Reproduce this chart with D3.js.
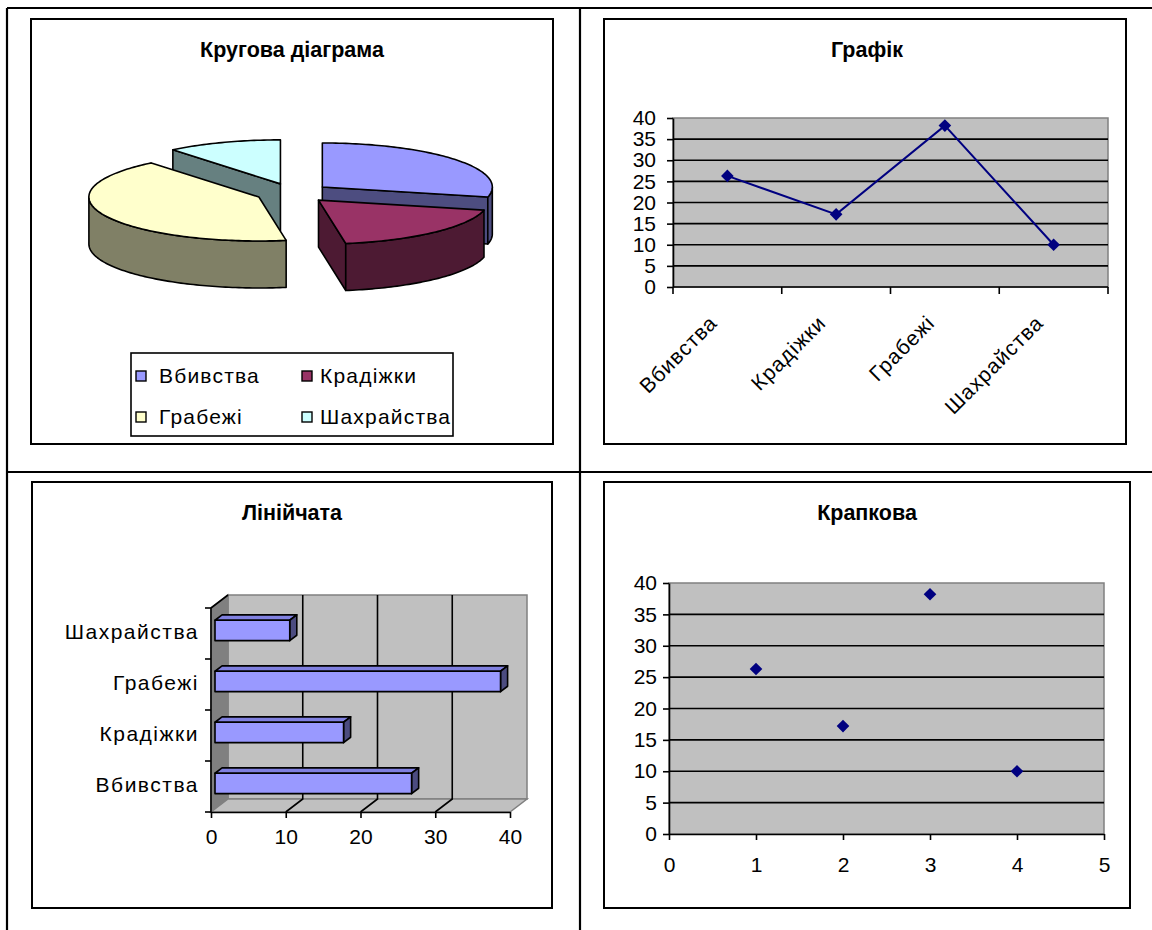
<!DOCTYPE html>
<html lang="uk">
<head>
<meta charset="UTF-8">
<title>Діаграми</title>
<style>
  html, body { margin: 0; padding: 0; background: #fff; }
  svg { display: block; }
  text { font-family: "Liberation Sans", Arial, sans-serif; fill: #000; }
  .title { font-size: 21.5px; font-weight: bold; }
  .lbl { font-size: 21px; }
</style>
</head>
<body>
<svg id="page" width="1152" height="930"></svg>
<script src="https://cdn.jsdelivr.net/npm/d3@7/dist/d3.min.js"></script>
<script>
// data
const categories = ["Вбивства", "Крадіжки", "Грабежі", "Шахрайства"];
const values = [26.3, 17.2, 38.2, 10];
const scatterX = [1, 2, 3, 4];
const yTicks = [0, 5, 10, 15, 20, 25, 30, 35, 40];
const barTicks = [0, 10, 20, 30, 40];
const scatterXTicks = [0, 1, 2, 3, 4, 5];
const pieColors = ["#9999ff", "#993366", "#ffffcc", "#ccffff"];
const titles = ["Кругова діаграма", "Графік", "Лінійчата", "Крапкова"];

const svg = d3.select("#page");
const half = c => { const r = d3.rgb(c); return d3.rgb(r.r / 2, r.g / 2, r.b / 2).formatHex(); };

// table lines
const grid = [[7, 8, 1152, 8], [7, 472, 1152, 472], [7, 8, 7, 930], [580, 8, 580, 930]];
svg.selectAll(".tbl").data(grid).enter().append("line")
  .attr("x1", d => d[0]).attr("y1", d => d[1]).attr("x2", d => d[2]).attr("y2", d => d[3])
  .attr("stroke", "#000").attr("stroke-width", 2.2);

// chart frames
const frames = [[31, 19, 553, 444], [604, 19, 1126, 444], [32, 482, 552, 908], [604, 482, 1130, 908]];
svg.selectAll(".frame").data(frames).enter().append("rect")
  .attr("x", d => d[0]).attr("y", d => d[1]).attr("width", d => d[2] - d[0]).attr("height", d => d[3] - d[1])
  .attr("fill", "#fff").attr("stroke", "#000").attr("stroke-width", 2);

const titlePos = [[292, 57], [867, 57], [292, 520], [867, 520]];
titles.forEach((t, i) => {
  svg.append("text").attr("class", "title").attr("x", titlePos[i][0]).attr("y", titlePos[i][1])
    .attr("text-anchor", "middle").text(t);
});

// ---------- 3D pie ----------
const P = {cx: 293, cy: 193, rx: 170, ry: 44, depth: 47, explode: 0.22};
const slices = d3.pie().sort(null).value(d => d)(values).map((s, i) => {
  const m = (s.startAngle + s.endAngle) / 2;
  return Object.assign(s, {
    i: i, mid: m,
    ox: P.explode * P.rx * Math.sin(m),
    oy: -P.explode * P.ry * Math.cos(m)
  });
});
const pt = (s, a, r, h) => [P.cx + s.ox + r * P.rx * Math.sin(a), P.cy + s.oy - r * P.ry * Math.cos(a) + h];
const arcPts = (s, a0, a1, h) => {
  const n = Math.max(2, Math.ceil(Math.abs(a1 - a0) / 0.02));
  return d3.range(n + 1).map(k => pt(s, a0 + (a1 - a0) * k / n, 1, h));
};
const line = d3.line();
const pieG = svg.append("g");
const faceStyle = (sel, fill) => sel.attr("fill", fill).attr("stroke", "#000")
  .attr("stroke-width", 1.6).attr("stroke-linejoin", "round");

slices.slice().sort((a, b) => (-Math.cos(a.mid)) - (-Math.cos(b.mid))).forEach(s => {
  const top = pieColors[s.i], side = half(top);
  const a0 = s.startAngle, a1 = s.endAngle, D = P.depth;
  if (Math.sin(a0) < -1e-6) {
    faceStyle(pieG.append("path").attr("d", line([pt(s, a0, 0, 0), pt(s, a0, 1, 0), pt(s, a0, 1, D), pt(s, a0, 0, D)]) + "Z"), side);
  }
  if (Math.sin(a1) > 1e-6) {
    faceStyle(pieG.append("path").attr("d", line([pt(s, a1, 0, 0), pt(s, a1, 1, 0), pt(s, a1, 1, D), pt(s, a1, 0, D)]) + "Z"), side);
  }
  const st = Math.max(a0, Math.PI / 2), en = Math.min(a1, 3 * Math.PI / 2);
  if (st < en) {
    faceStyle(pieG.append("path").attr("d", line(arcPts(s, st, en, 0).concat(arcPts(s, en, st, D))) + "Z"), side);
  }
  faceStyle(pieG.append("path").attr("d", line([pt(s, 0, 0, 0)].concat(arcPts(s, a0, a1, 0))) + "Z"), top);
});

// legend
const leg = svg.append("g");
leg.append("rect").attr("x", 131).attr("y", 353).attr("width", 322).attr("height", 83)
  .attr("fill", "#fff").attr("stroke", "#000").attr("stroke-width", 1.6);
categories.forEach((c, i) => {
  const lx = 136 + (i % 2) * 166, ly = 376 + Math.floor(i / 2) * 41;
  leg.append("rect").attr("x", lx).attr("y", ly - 5).attr("width", 10).attr("height", 10)
    .attr("fill", pieColors[i]).attr("stroke", "#000").attr("stroke-width", 1.4);
  leg.append("text").attr("class", "lbl").attr("x", lx + (i % 2 ? 18 : 23)).attr("y", ly + 7)
    .attr("letter-spacing", 1.2).text(c);
});

// ---------- line chart ----------
const gx = d3.scaleBand().domain(categories).range([673, 1108]);
const gy = d3.scaleLinear().domain([0, 40]).range([287, 118]);
const lg = svg.append("g");
lg.append("rect").attr("x", 673).attr("y", gy(40)).attr("width", 1108 - 673).attr("height", gy(0) - gy(40))
  .attr("fill", "#c0c0c0").attr("stroke", "#808080").attr("stroke-width", 1.5);
lg.selectAll(".gl").data(yTicks.filter(t => t > 0 && t < 40)).enter().append("line")
  .attr("x1", 673).attr("x2", 1108).attr("y1", d => gy(d)).attr("y2", d => gy(d))
  .attr("stroke", "#000").attr("stroke-width", 1.6);
const gyAxis = lg.append("g").attr("transform", "translate(673,0)")
  .call(d3.axisLeft(gy).tickValues(yTicks).tickSize(6).tickSizeOuter(0).tickPadding(11));
gyAxis.selectAll("text").attr("class", "lbl");
gyAxis.selectAll("line,path").attr("stroke-width", 1.6);
lg.append("line").attr("x1", 673).attr("x2", 1108).attr("y1", gy(0)).attr("y2", gy(0))
  .attr("stroke", "#000").attr("stroke-width", 1.6);
lg.selectAll(".xt").data(categories.map(c => gx(c)).concat([gx.range()[1]])).enter().append("line")
  .attr("x1", d => d).attr("x2", d => d).attr("y1", gy(0)).attr("y2", gy(0) + 7)
  .attr("stroke", "#000").attr("stroke-width", 1.6);
lg.selectAll(".xl").data(categories).enter().append("text").attr("class", "lbl")
  .attr("text-anchor", "end").attr("dy", "0.35em").attr("letter-spacing", 1)
  .attr("transform", d => `translate(${gx(d) + gx.bandwidth() / 2 - 14},${gy(0) + 32}) rotate(-45)`)
  .text(d => d);
const cx = d => gx(d) + gx.bandwidth() / 2;
lg.append("path").datum(values)
  .attr("d", d3.line().x((d, i) => cx(categories[i])).y(d => gy(d)))
  .attr("fill", "none").attr("stroke", "#000080").attr("stroke-width", 2);
const diamond = d3.symbol(d3.symbolSquare, 80);
lg.selectAll(".mk").data(values).enter().append("path")
  .attr("d", diamond)
  .attr("transform", (d, i) => `translate(${cx(categories[i])},${gy(d)}) rotate(45)`)
  .attr("fill", "#000080");

// ---------- 3D bar chart ----------
const bx = d3.scaleLinear().domain([0, 40]).range([211, 510]);
const by = d3.scaleBand().domain(categories.slice().reverse()).range([608, 812]);
const DX = 17, DY = -13;
const bg = svg.append("g");
const y0 = by.range()[0], y1 = by.range()[1];
// back wall
bg.append("rect").attr("x", bx(0) + DX).attr("y", y0 + DY).attr("width", bx(40) - bx(0)).attr("height", y1 - y0)
  .attr("fill", "#c0c0c0").attr("stroke", "#808080").attr("stroke-width", 1.5);
// left wall
bg.append("path").attr("d", line([[bx(0), y0], [bx(0) + DX, y0 + DY], [bx(0) + DX, y1 + DY], [bx(0), y1]]) + "Z")
  .attr("fill", "#808080").attr("stroke", "#808080").attr("stroke-width", 1.5);
// floor
bg.append("path").attr("d", line([[bx(0), y1], [bx(0) + DX, y1 + DY], [bx(40) + DX, y1 + DY], [bx(40), y1]]) + "Z")
  .attr("fill", "#c0c0c0").attr("stroke", "#808080").attr("stroke-width", 1.5);
// gridlines
barTicks.filter(t => t > 0 && t < 40).forEach(t => {
  bg.append("path").attr("d", line([[bx(t) + DX, y0 + DY], [bx(t) + DX, y1 + DY], [bx(t), y1]]))
    .attr("fill", "none").attr("stroke", "#000").attr("stroke-width", 1.6);
});
bg.append("line").attr("x1", bx(0)).attr("y1", y0).attr("x2", bx(0) + DX).attr("y2", y0 + DY)
  .attr("stroke", "#000").attr("stroke-width", 1.6);
// bars
const f0 = 0.235, f1 = 0.65;
const bh = by.bandwidth() * 0.4;
categories.forEach((c, i) => {
  const xa = bx(0) + DX * f0, xb = bx(values[i]) + DX * f0;
  const yc = by(c) + by.bandwidth() / 2 + DY * f0;
  const yt = yc - bh / 2, yb = yc + bh / 2;
  const dx = DX * (f1 - f0), dy = DY * (f1 - f0);
  const st = sel => sel.attr("stroke", "#000").attr("stroke-width", 1.6).attr("stroke-linejoin", "round");
  st(bg.append("path").attr("d", line([[xa, yt], [xb, yt], [xb + dx, yt + dy], [xa + dx, yt + dy]]) + "Z").attr("fill", "#8080e0"));
  st(bg.append("path").attr("d", line([[xb, yt], [xb + dx, yt + dy], [xb + dx, yb + dy], [xb, yb]]) + "Z").attr("fill", "#4c4c80"));
  st(bg.append("rect").attr("x", xa).attr("y", yt).attr("width", xb - xa).attr("height", bh).attr("fill", "#9999ff"));
});
// axes
const bxAxis = bg.append("g").attr("transform", `translate(0,${y1})`)
  .call(d3.axisBottom(bx).tickValues(barTicks).tickSize(6).tickSizeOuter(0).tickPadding(11));
bxAxis.selectAll("text").attr("class", "lbl");
bxAxis.selectAll("line,path").attr("stroke-width", 1.6);
bg.append("line").attr("x1", bx(0)).attr("x2", bx(0)).attr("y1", y0).attr("y2", y1)
  .attr("stroke", "#000").attr("stroke-width", 1.6);
bg.selectAll(".yt").data(by.domain().map(c => by(c)).concat([y1])).enter().append("line")
  .attr("x1", bx(0) - 6).attr("x2", bx(0)).attr("y1", d => d).attr("y2", d => d)
  .attr("stroke", "#000").attr("stroke-width", 1.6);
bg.selectAll(".yl").data(categories).enter().append("text").attr("class", "lbl")
  .attr("x", 199).attr("y", d => by(d) + by.bandwidth() / 2 - 2).attr("dy", "0.35em")
  .attr("text-anchor", "end").attr("letter-spacing", 1.5).text(d => d);

// ---------- scatter ----------
const sx = d3.scaleLinear().domain([0, 5]).range([669, 1104]);
const sy = d3.scaleLinear().domain([0, 40]).range([834, 583]);
const sg = svg.append("g");
sg.append("rect").attr("x", sx(0)).attr("y", sy(40)).attr("width", sx(5) - sx(0)).attr("height", sy(0) - sy(40))
  .attr("fill", "#c0c0c0").attr("stroke", "#808080").attr("stroke-width", 1.5);
sg.selectAll(".gl").data(yTicks.filter(t => t > 0 && t < 40)).enter().append("line")
  .attr("x1", sx(0)).attr("x2", sx(5)).attr("y1", d => sy(d)).attr("y2", d => sy(d))
  .attr("stroke", "#000").attr("stroke-width", 1.6);
const syAxis = sg.append("g").attr("transform", `translate(${sx(0)},0)`)
  .call(d3.axisLeft(sy).tickValues(yTicks).tickSize(6).tickSizeOuter(0).tickPadding(6));
syAxis.selectAll("text").attr("class", "lbl");
syAxis.selectAll("line,path").attr("stroke-width", 1.6);
const sxAxis = sg.append("g").attr("transform", `translate(0,${sy(0)})`)
  .call(d3.axisBottom(sx).tickValues(scatterXTicks).tickFormat(d3.format("d"))
    .tickSize(6).tickSizeOuter(0).tickPadding(17));
sxAxis.selectAll("text").attr("class", "lbl");
sxAxis.selectAll("line,path").attr("stroke-width", 1.6);
sg.selectAll(".mk").data(values).enter().append("path")
  .attr("d", diamond)
  .attr("transform", (d, i) => `translate(${sx(scatterX[i])},${sy(d)}) rotate(45)`)
  .attr("fill", "#000080");
</script>
</body>
</html>
